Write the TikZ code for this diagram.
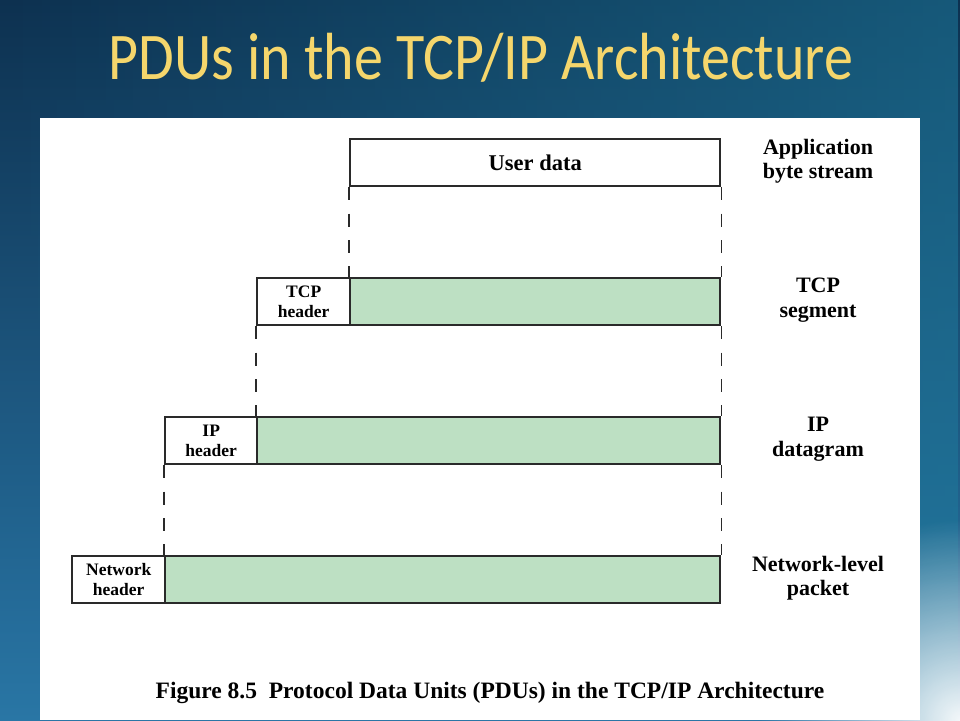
\documentclass[tikz,border=0pt]{standalone}
\usepackage{fontspec}
\setmainfont{Liberation Serif}
\newfontfamily\titlefont{Carlito}
\usetikzlibrary{fadings}
\tikzfading[name=glowfade, inner color=transparent!0, outer color=transparent!100]
\definecolor{bgtop}{HTML}{0D3150}
\definecolor{bgbot}{HTML}{2A76A6}
\definecolor{teal}{HTML}{1E7A9C}
\definecolor{titlecol}{HTML}{F5D66C}
\definecolor{greenfill}{HTML}{BDE0C3}
\definecolor{linecol}{HTML}{2A2A2A}
\tikzset{
  pdubox/.style={draw=linecol, line width=2.4pt, minimum height=47pt, inner sep=0pt, anchor=north west},
  hdr/.style={pdubox, fill=white, font=\bfseries\fontsize{17.5}{19.5}\selectfont, align=center},
  payload/.style={pdubox, fill=greenfill},
  userbox/.style={pdubox, fill=white, font=\bfseries\fontsize{22.5}{24}\selectfont},
  sidelabel/.style={font=\bfseries\fontsize{22}{24.5}\selectfont, align=center, text=black},
  guide/.style={draw=linecol, line width=1.6pt, dash pattern=on 13pt off 13.3pt}
}
\begin{document}
\begin{tikzpicture}[x=1pt,y=-1pt]
\useasboundingbox (0,0) rectangle (960,720);
% background
\shade[top color=bgtop, bottom color=bgbot] (0,0) rectangle (960,720);
\fill[teal, path fading=west, opacity=0.55] (0,0) rectangle (960,720);
\fill[white, path fading=glowfade, opacity=0.95] (960,720) circle (200);
% title
\node[text=titlecol, font=\titlefont\fontsize{58}{60}\selectfont] (title) at (481,58)
  {\scalebox{1}[1.15]{PDUs in the TCP/IP Architecture}};
% white panel
\fill[white] (40,118) rectangle (920,720);
% row 1
\node[userbox, minimum width=370pt] (ud) at (349,138) {User data};
% row 2
\node[hdr, minimum width=93pt] (tcph) at (256,277) {TCP\\header};
\node[payload, minimum width=370pt] (tcpd) at (349,277) {};
% row 3
\node[hdr, minimum width=92pt] (iph) at (164,416) {IP\\header};
\node[payload, minimum width=463pt] (ipd) at (256,416) {};
% row 4
\node[hdr, minimum width=93pt] (neth) at (71,555) {Network\\header};
\node[payload, minimum width=555pt] (netd) at (164,555) {};
% dashed guides
\draw[guide] (ud.south west) -- (tcpd.north west);
\draw[guide] (ud.south east) -- (tcpd.north east);
\draw[guide] (tcph.south west) -- (ipd.north west);
\draw[guide] (tcpd.south east) -- (ipd.north east);
\draw[guide] (iph.south west) -- (netd.north west);
\draw[guide] (ipd.south east) -- (netd.north east);
% side labels
\node[sidelabel] (l1) at (818,161) {Application\\byte stream};
\node[sidelabel] (l2) at (818,300) {TCP\\segment};
\node[sidelabel] (l3) at (818,439) {IP\\datagram};
\node[sidelabel] (l4) at (818,578) {Network-level\\packet};
% caption
\node[font=\bfseries\fontsize{23.5}{25}\selectfont] (cap) at (490,693)
  {Figure 8.5\ \ Protocol Data Units (PDUs) in the TCP/IP Architecture};
\end{tikzpicture}
\end{document}
